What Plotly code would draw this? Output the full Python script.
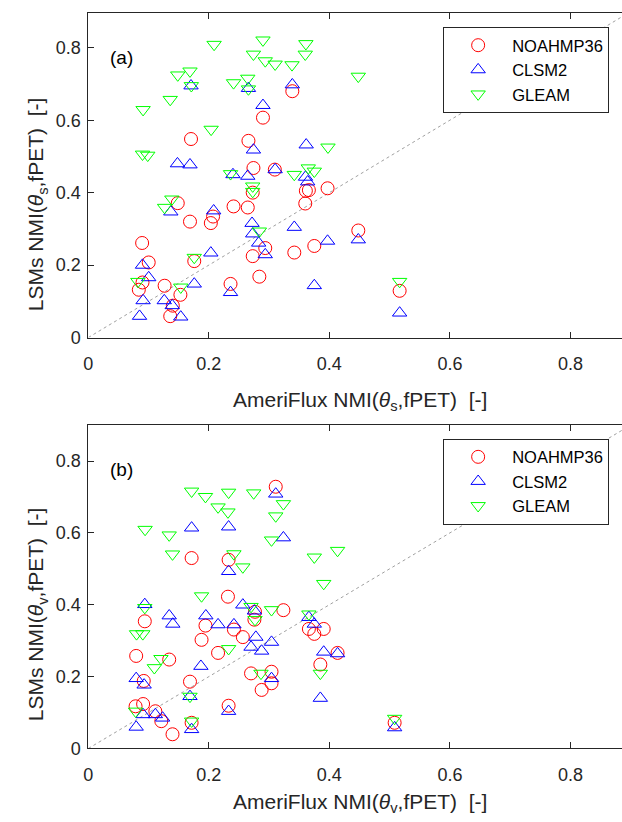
import plotly.graph_objects as go

# ---------------- data: panel (a) theta_s ----------------
noah_a_x = [0.3385, 0.2898, 0.1704, 0.2657, 0.274, 0.3095, 0.361, 0.366, 0.397, 0.360, 0.2728, 0.1484, 0.241, 0.2646, 0.207, 0.1687, 0.2033, 0.0893, 0.2936, 0.2728, 0.3418, 0.375, 0.1002, 0.1758, 0.2838, 0.236, 0.0899, 0.0838, 0.1266, 0.1528, 0.1402, 0.1359, 0.448, 0.5166]
noah_a_y = [0.680, 0.607, 0.548, 0.543, 0.468, 0.4636, 0.405, 0.407, 0.412, 0.370, 0.400, 0.371, 0.362, 0.359, 0.334, 0.320, 0.316, 0.261, 0.247, 0.2247, 0.2346, 0.2528, 0.2073, 0.211, 0.168, 0.148, 0.152, 0.132, 0.143, 0.118, 0.088, 0.059, 0.2955, 0.129]

clsm_a_x = [0.1704, 0.2657, 0.3385, 0.2898, 0.274, 0.3615, 0.1479, 0.1687, 0.240, 0.2646, 0.310, 0.3604, 0.364, 0.1369, 0.208, 0.2717, 0.2728, 0.2827, 0.2936, 0.3418, 0.397, 0.2033, 0.0899, 0.1002, 0.1758, 0.236, 0.375, 0.0909, 0.126, 0.1392, 0.085, 0.1534, 0.448, 0.5166]
clsm_a_y = [0.695, 0.688, 0.698, 0.641, 0.518, 0.532, 0.480, 0.477, 0.450, 0.4456, 0.4636, 0.443, 0.430, 0.347, 0.350, 0.3155, 0.2864, 0.261, 0.229, 0.3046, 0.2664, 0.2337, 0.200, 0.1655, 0.148, 0.1246, 0.1437, 0.102, 0.102, 0.0884, 0.059, 0.057, 0.270, 0.068]

gleam_a_x = [0.2087, 0.2898, 0.361, 0.274, 0.360, 0.2936, 0.310, 0.338, 0.1687, 0.1484, 0.448, 0.1709, 0.241, 0.2646, 0.2657, 0.1359, 0.0909, 0.2038, 0.3977, 0.0899, 0.0986, 0.236, 0.3418, 0.365, 0.375, 0.2728, 0.2728, 0.1386, 0.1266, 0.2838, 0.1758, 0.0822, 0.1534, 0.5166]
gleam_a_y = [0.809, 0.821, 0.811, 0.782, 0.782, 0.7636, 0.7545, 0.7527, 0.7354, 0.7245, 0.721, 0.695, 0.703, 0.7155, 0.686, 0.657, 0.629, 0.5746, 0.5255, 0.506, 0.503, 0.452, 0.450, 0.468, 0.459, 0.418, 0.403, 0.382, 0.359, 0.2937, 0.221, 0.1546, 0.139, 0.1546]

# ---------------- data: panel (b) theta_v ----------------
noah_b_x = [0.311, 0.1714, 0.2328, 0.2317, 0.2766, 0.2756, 0.3237, 0.0937, 0.1944, 0.2416, 0.2564, 0.1879, 0.366, 0.375, 0.3906, 0.2153, 0.0794, 0.1342, 0.385, 0.4136, 0.270, 0.304, 0.304, 0.2876, 0.092, 0.1687, 0.0784, 0.0909, 0.1112, 0.1211, 0.2328, 0.1714, 0.1397, 0.5083]
noah_b_y = [0.7285, 0.530, 0.525, 0.4225, 0.3805, 0.3585, 0.385, 0.354, 0.342, 0.331, 0.310, 0.3024, 0.3327, 0.319, 0.3327, 0.266, 0.2576, 0.2475, 0.2337, 0.266, 0.209, 0.2136, 0.1815, 0.163, 0.188, 0.186, 0.1174, 0.1237, 0.1036, 0.076, 0.119, 0.0715, 0.0396, 0.0715]

clsm_b_x = [0.311, 0.1714, 0.2328, 0.3237, 0.2328, 0.0937, 0.2564, 0.2756, 0.1342, 0.1402, 0.195, 0.2153, 0.2416, 0.366, 0.375, 0.278, 0.270, 0.2876, 0.304, 0.3906, 0.4136, 0.1868, 0.0794, 0.0926, 0.304, 0.1687, 0.385, 0.0909, 0.1112, 0.1233, 0.2328, 0.0794, 0.1714, 0.5083]
clsm_b_y = [0.7085, 0.614, 0.617, 0.5867, 0.493, 0.401, 0.3997, 0.383, 0.3695, 0.3464, 0.3695, 0.3447, 0.3447, 0.365, 0.3464, 0.310, 0.2823, 0.2713, 0.296, 0.2686, 0.264, 0.229, 0.195, 0.177, 0.195, 0.145, 0.140, 0.0945, 0.0945, 0.085, 0.1036, 0.0597, 0.053, 0.058]

gleam_b_x = [0.1714, 0.1944, 0.2328, 0.2744, 0.2153, 0.2317, 0.3237, 0.311, 0.0942, 0.1342, 0.304, 0.1397, 0.2416, 0.2564, 0.375, 0.4136, 0.3906, 0.1879, 0.0937, 0.270, 0.304, 0.2766, 0.366, 0.080, 0.0904, 0.2328, 0.1205, 0.1096, 0.2865, 0.385, 0.1687, 0.0784, 0.1714, 0.5083]
gleam_b_y = [0.716, 0.701, 0.713, 0.711, 0.672, 0.658, 0.681, 0.647, 0.6095, 0.594, 0.580, 0.541, 0.5416, 0.505, 0.5325, 0.551, 0.459, 0.4245, 0.392, 0.395, 0.386, 0.3585, 0.374, 0.319, 0.319, 0.2777, 0.250, 0.2246, 0.209, 0.209, 0.145, 0.1036, 0.076, 0.0836]

series_names = ["NOAHMP36", "CLSM2", "GLEAM"]
one_to_one = [0, 0.9]
tick_vals = [0, 0.2, 0.4, 0.6, 0.8]
tick_text = ["0", "0.2", "0.4", "0.6", "0.8"]

W, H = 622, 822
FONT = "Liberation Sans, Arial, Helvetica, sans-serif"
AX = "#262626"
colors = ["rgb(255,0,0)", "rgb(0,0,255)", "rgb(0,255,0)"]
symbols = ["circle-open", "triangle-up-open", "triangle-down-open"]
sizes = [13, 12.5, 12.5]

fig = go.Figure()

panels = [
    ("x", "y", "legend", [(noah_a_x, noah_a_y), (clsm_a_x, clsm_a_y), (gleam_a_x, gleam_a_y)]),
    ("x2", "y2", "legend2", [(noah_b_x, noah_b_y), (clsm_b_x, clsm_b_y), (gleam_b_x, gleam_b_y)]),
]
for xa, ya, lg, data in panels:
    fig.add_trace(go.Scatter(x=one_to_one, y=one_to_one, mode="lines", xaxis=xa, yaxis=ya,
                             line=dict(color="#a0a0a0", width=1, dash="dot"),
                             showlegend=False, hoverinfo="skip"))
    for i, (xs, ys) in enumerate(data):
        fig.add_trace(go.Scatter(x=xs, y=ys, mode="markers", name=series_names[i],
                                 xaxis=xa, yaxis=ya, legend=lg,
                                 marker=dict(symbol=symbols[i], size=sizes[i], color=colors[i],
                                             line=dict(width=1, color=colors[i]))))

x0 = 84
xpx = 607.5
xr = (W - x0) / xpx

def xaxis_cfg():
    return dict(domain=[x0 / W, 1], range=[0, xr], tickvals=tick_vals, ticktext=tick_text,
                ticks="inside", ticklen=6, tickwidth=1, tickcolor=AX,
                showline=True, linecolor=AX, linewidth=1, mirror="ticks",
                showgrid=False, zeroline=False, ticklabelstandoff=10,
                tickfont=dict(family=FONT, size=18, color=AX))

def yaxis_cfg(bottom_px, top_px, top_val):
    return dict(domain=[1 - bottom_px / H, 1 - top_px / H], range=[0, top_val],
                tickvals=tick_vals, ticktext=tick_text,
                ticks="inside", ticklen=6, tickwidth=1, tickcolor=AX,
                showline=True, linecolor=AX, linewidth=1, mirror=False,
                showgrid=False, zeroline=False, ticklabelstandoff=3,
                tickfont=dict(family=FONT, size=18, color=AX))

legend_cfg = dict(bgcolor="white", bordercolor=AX, borderwidth=1,
                  font=dict(family=FONT, size=16.5, color="#000000"),
                  xanchor="left", yanchor="top", itemwidth=58, tracegroupgap=0)

fig.update_layout(
    width=W, height=H,
    margin=dict(l=0, r=0, t=0, b=0),
    paper_bgcolor="white", plot_bgcolor="white",
    xaxis=dict(xaxis_cfg(), anchor="y"),
    yaxis=dict(yaxis_cfg(341.7, 13.3, 0.8955), anchor="x"),
    xaxis2=dict(xaxis_cfg(), anchor="y2"),
    yaxis2=dict(yaxis_cfg(757.7, 430, 0.901), anchor="x2"),
    legend=dict(legend_cfg, x=441.7 / W, y=1 - 27.3 / H),
    legend2=dict(legend_cfg, x=441.7 / W, y=1 - 444 / H),
)

ann_font = dict(family=FONT, size=21, color=AX)
annotations = [
    dict(text="(a)", x=117 / W, y=1 - 58 / H, xref="paper", yref="paper", showarrow=False,
         font=dict(family=FONT, size=19, color="#000000"), xanchor="center", yanchor="middle"),
    dict(text="(b)", x=117 / W, y=1 - 475 / H, xref="paper", yref="paper", showarrow=False,
         font=dict(family=FONT, size=19, color="#000000"), xanchor="center", yanchor="middle"),
    dict(text="AmeriFlux NMI(<i>θ</i><sub>s</sub>,fPET) \u00a0[-]", x=358 / W, y=1 - 406 / H,
         xref="paper", yref="paper", showarrow=False, font=ann_font, xanchor="center", yanchor="middle"),
    dict(text="AmeriFlux NMI(<i>θ</i><sub>v</sub>,fPET) \u00a0[-]", x=358 / W, y=1 - 813 / H,
         xref="paper", yref="paper", showarrow=False, font=ann_font, xanchor="center", yanchor="middle"),
    dict(text="LSMs NMI(<i>θ</i><sub>s</sub>,fPET) \u00a0[-]", x=33 / W, y=1 - 207 / H,
         xref="paper", yref="paper", showarrow=False, font=ann_font, textangle=-90,
         xanchor="center", yanchor="middle"),
    dict(text="LSMs NMI(<i>θ</i><sub>v</sub>,fPET) \u00a0[-]", x=33 / W, y=1 - 622 / H,
         xref="paper", yref="paper", showarrow=False, font=ann_font, textangle=-90,
         xanchor="center", yanchor="middle"),
]
fig.update_layout(annotations=annotations)

fig.write_html("out.html")
